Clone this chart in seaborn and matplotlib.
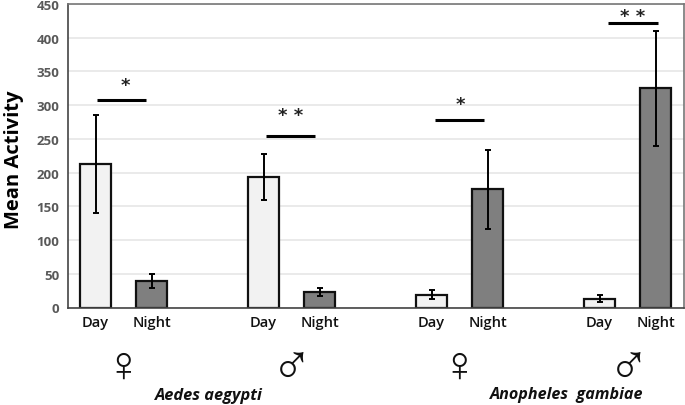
import matplotlib
matplotlib.use("Agg")
import numpy as np
import pandas as pd
import seaborn as sns
import matplotlib.pyplot as plt

# blank slots between the groups come from the same way excel spaced them
slots = ["d1", "n1", "g1", "d2", "n2", "g2", "d3", "n3", "g3", "d4", "n4"]
labels = ["Day", "Night", "", "Day", "Night", "", "Day", "Night", "", "Day", "Night"]
means = [213, 39, np.nan, 194, 23, np.nan, 19, 175, np.nan, 13, 325]
errs = [73, 10, np.nan, 34, 6, np.nan, 7, 59, np.nan, 5, 85]
periods = ["Day", "Night", "Day", "Day", "Night", "Day", "Day", "Night", "Day", "Day", "Night"]

sig_x = [0.47, 3.48, 6.5, 9.6]
sig_y = [307, 254, 278, 422]
star_x = [0.54, 3.49, 6.51, 9.59]
star_y = [330, 285, 302, 432]
sig_text = ["*", "* *", "*", "* *"]

sns.set_style("white")
plt.rcParams['font.family'] = ['Open Sans', 'DejaVu Sans']

df = pd.DataFrame({"slot": slots, "mean": means, "err": errs, "period": periods})

fig = plt.figure(figsize=(6.85, 4.06), dpi=100)
ax = fig.add_axes([67.5/685, 1-308.5/406, (683.5-67.5)/685, (308.5-5)/406])

sns.barplot(data=df, x="slot", y="mean", hue="period", order=slots, dodge=False,
            palette={"Day": "#f2f2f2", "Night": "#7f7f7f"}, width=0.54,
            edgecolor="#111111", linewidth=1.6, legend=False, errorbar=None, ax=ax, zorder=2)
ax.errorbar(range(len(slots)), df["mean"], yerr=df["err"], fmt="none", ecolor="black",
            elinewidth=1.4, capsize=2.5, capthick=1.4, zorder=3)

ax.set_xlim(-0.5, 10.5)
ax.set_ylim(0, 450)
ax.set_yticks(range(0, 451, 50))
ax.yaxis.grid(True, color="#e4e4e4", linewidth=1.1)
ax.set_axisbelow(True)
for name, s in ax.spines.items():
    s.set_visible(True)
    s.set_color("#444444" if name in ("left", "bottom") else "#777777")
    s.set_linewidth(1.2)

ax.set_xticks(range(len(slots)))
ax.set_xticklabels(labels, fontsize=10.5, fontweight="semibold", color="#111111")
ax.tick_params(axis="x", length=0, pad=5.5)
ax.tick_params(axis="y", length=0, pad=6, labelsize=9.5, labelcolor="#595959")
for t in ax.get_yticklabels():
    t.set_fontweight("bold")

ax.set_xlabel("")
ax.set_ylabel("Mean Activity", fontsize=14.5, fontweight="bold", color="black")
ax.yaxis.set_label_coords(-0.07, 0.49)

for x, y in zip(sig_x, sig_y):
    ax.plot([x - 0.44, x + 0.44], [y, y], color="black", linewidth=2.2, zorder=4,
            solid_capstyle="butt", clip_on=False)
for x, y, s in zip(star_x, star_y, sig_text):
    ax.text(x, y, s, ha="center", va="center", fontsize=13, fontweight="bold",
            color="#222222", family="DejaVu Sans")

# sex symbols and species names sit under the axis
for px, py, s, fs in [(123, 368, "\u2640", 36), (291.5, 371, "\u2642", 40),
                      (459, 368, "\u2640", 36), (629, 371, "\u2642", 40)]:
    fig.text(px/685, 1-py/406, s, ha="center", va="center", fontsize=fs,
             family=["Liberation Sans", "DejaVu Sans"], color="#111111")
fig.text(209/685, 1-396/406, "Aedes aegypti", ha="center", va="center", fontsize=11.8,
         fontweight="bold", fontstyle="italic", color="#111111")
fig.text(567/685, 1-395/406, "Anopheles  gambiae", ha="center", va="center", fontsize=11.6,
         fontweight="bold", fontstyle="italic", color="#111111")

fig.savefig("out.png", dpi=100, facecolor="white")
